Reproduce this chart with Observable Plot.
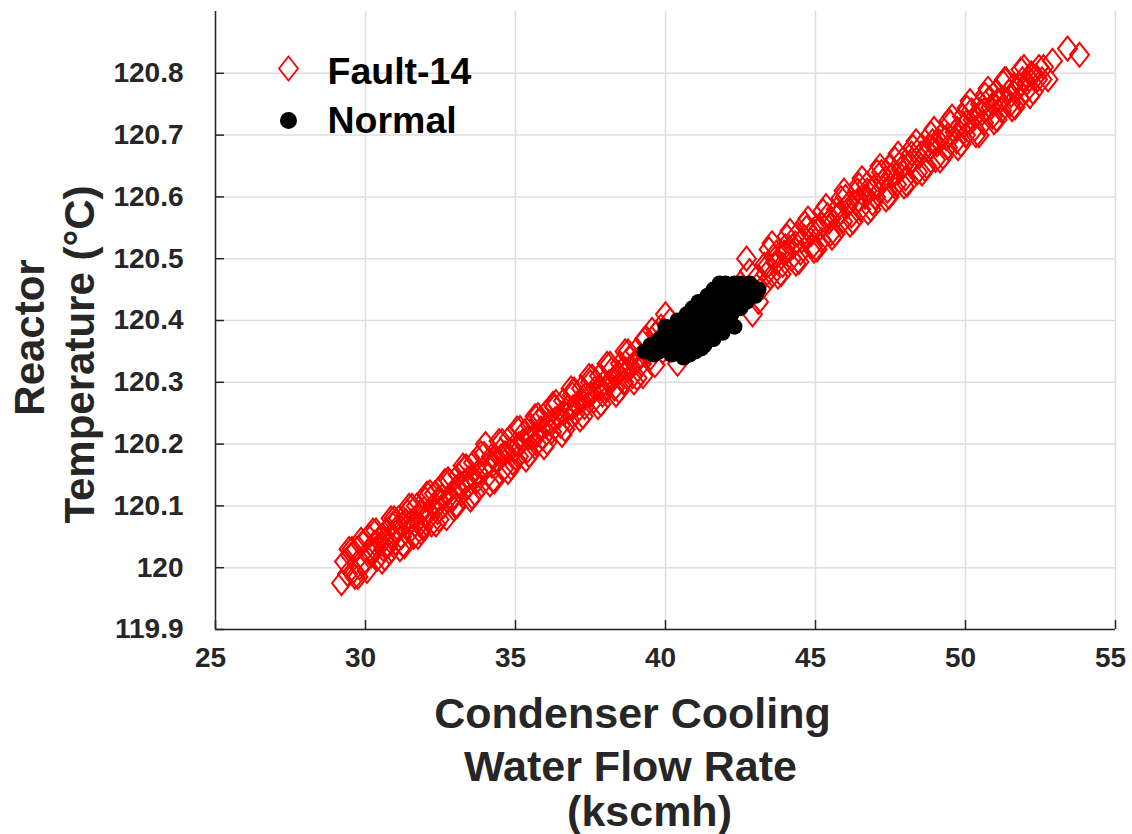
<!DOCTYPE html>
<html><head><meta charset="utf-8">
<script src="https://cdn.jsdelivr.net/npm/d3@7"></script>
<script src="https://cdn.jsdelivr.net/npm/@observablehq/plot@0.6"></script>
<style>body{margin:0;background:#fff;} svg{display:block}</style>
</head><body><div id="chart"></div>
<script>
// Fault-14 samples [flow rate (kscmh), reactor temperature (°C)]
const faultPoints = [
[29.2,119.975],[29.3,120.01],[29.4,119.99],[29.5,120.02],[29.6,119.995],[29.7,120.03],[29.8,120.0],[29.9,120.04],
[30.0,120.01],[30.1,120.05],[30.2,120.02],[30.3,120.04],[30.4,120.015],[30.5,120.05],[30.6,120.03],[30.7,120.06],
[30.8,120.025],[30.9,120.07],[31.0,120.04],[31.1,120.08],[31.2,120.05],[31.3,120.035],[31.4,120.09],[31.5,120.06],
[31.6,120.05],[31.7,120.1],[31.8,120.07],[31.9,120.065],[32.0,120.11],[32.1,120.08],[32.2,120.07],[32.3,120.12],
[32.4,120.09],[32.5,120.13],[32.6,120.1],[32.7,120.08],[32.8,120.14],[32.9,120.11],[33.0,120.1],[33.1,120.15],
[33.2,120.12],[33.3,120.16],[33.4,120.13],[33.5,120.11],[33.6,120.17],[33.7,120.14],[33.8,120.13],[34.0,120.2],
[34.1,120.15],[34.2,120.18],[34.3,120.14],[34.5,120.19],[34.6,120.16],[34.8,120.21],[34.9,120.17],[35.0,120.2],
[35.1,120.18],[35.3,120.22],[35.4,120.19],[35.5,120.23],[35.7,120.2],[35.8,120.24],[35.9,120.21],[36.0,120.25],
[36.2,120.22],[36.3,120.26],[36.5,120.23],[36.6,120.27],[36.8,120.24],[36.9,120.28],[37.0,120.25],[37.2,120.29],
[37.3,120.26],[37.5,120.3],[37.6,120.27],[37.8,120.31],[37.9,120.28],[38.0,120.29],[38.2,120.32],[38.3,120.29],
[38.5,120.33],[38.6,120.3],[38.8,120.34],[38.9,120.31],[39.0,120.35],[39.2,120.33],[39.3,120.37],[39.5,120.34],
[39.7,120.38],[39.9,120.35],[40.0,120.41],[40.4,120.33],[40.6,120.36],[40.8,120.37],[41.0,120.39],[41.3,120.4],
[41.6,120.41],[41.9,120.43],[42.2,120.44],[42.7,120.5],[42.9,120.41],[43.1,120.43],[43.3,120.49],[43.5,120.47],
[43.7,120.51],[43.9,120.49],[44.0,120.52],[44.2,120.5],[44.4,120.54],[44.5,120.51],[44.7,120.55],[44.9,120.52],
[45.0,120.55],[45.2,120.53],[45.4,120.57],[45.5,120.54],[45.7,120.58],[45.9,120.56],[46.0,120.6],[46.2,120.57],
[46.4,120.61],[46.5,120.58],[46.7,120.62],[46.9,120.59],[47.0,120.6],[47.2,120.64],[47.4,120.61],[47.5,120.65],
[47.7,120.62],[47.9,120.66],[48.0,120.63],[48.2,120.67],[48.4,120.64],[48.5,120.68],[48.7,120.65],[48.9,120.69],
[49.0,120.66],[49.2,120.7],[49.4,120.68],[49.5,120.72],[49.7,120.69],[49.9,120.73],[50.0,120.7],[50.2,120.74],
[50.3,120.71],[50.5,120.75],[50.6,120.72],[50.8,120.76],[50.9,120.73],[51.0,120.77],[51.2,120.74],[51.3,120.79],
[51.5,120.75],[51.6,120.78],[51.8,120.76],[51.9,120.79],[52.0,120.77],[52.2,120.8],[52.4,120.79],[52.6,120.81],
[52.9,120.82],[53.4,120.84],[53.8,120.83],
[30.15,120.03],[30.45,120.045],[30.75,120.035],[31.05,120.065],[31.35,120.075],[31.65,120.07],[31.95,120.095],
[32.25,120.1],[32.55,120.115],[32.85,120.11],[33.15,120.135],[33.45,120.145],[33.75,120.155],[34.05,120.165],
[34.35,120.175],[34.65,120.185],[34.95,120.19],[35.25,120.205],[35.55,120.21],[35.85,120.225],[36.15,120.235],
[36.45,120.245],[36.75,120.26],[37.05,120.265],[37.35,120.28],[37.65,120.29],[37.95,120.3],[38.25,120.305],
[38.55,120.32],[38.85,120.325],[39.15,120.34],[39.45,120.35],[39.75,120.365],[40.05,120.37],[42.5,120.46],
[42.8,120.48],[43.05,120.47],[43.35,120.475],[43.65,120.5],[43.95,120.51],[44.25,120.52],[44.55,120.53],
[44.85,120.54],[45.15,120.55],[45.45,120.56],[45.75,120.57],[46.05,120.585],[46.35,120.59],[46.65,120.6],
[46.95,120.615],[47.25,120.625],[47.55,120.635],[47.85,120.645],[48.15,120.655],[48.45,120.665],[48.75,120.675],
[49.05,120.685],[49.35,120.695],[49.65,120.705],[49.95,120.715],[50.25,120.725],[50.55,120.735],[50.85,120.745],
[51.15,120.755],[51.45,120.77],[51.75,120.775],[52.05,120.785],[52.35,120.795],
[29.45,120.03],[29.65,119.985],[29.85,120.045],[30.05,119.995],[30.25,120.06],[30.55,120.01],[30.85,120.08],
[31.15,120.03],[31.45,120.1],[31.75,120.05],[32.05,120.12],[32.35,120.07],[32.65,120.14],[32.95,120.095],
[33.25,120.165],[33.55,120.115],[33.85,120.185],[34.15,120.135],[34.45,120.205],[34.75,120.155],[35.05,120.225],
[35.35,120.175],[35.65,120.245],[35.95,120.195],[36.25,120.265],[36.55,120.215],[36.85,120.29],[37.15,120.24],
[37.45,120.31],[37.75,120.26],[38.05,120.33],[38.35,120.28],[38.65,120.35],[38.95,120.3],[39.25,120.31],
[39.55,120.385],[39.85,120.39],[40.15,120.4],[43.25,120.455],[43.55,120.525],[43.85,120.475],[44.15,120.545],
[44.45,120.495],[44.75,120.565],[45.05,120.515],[45.35,120.585],[45.65,120.54],[45.95,120.61],[46.25,120.56],
[46.55,120.63],[46.85,120.58],[47.15,120.65],[47.45,120.6],[47.75,120.67],[48.05,120.62],[48.35,120.69],
[48.65,120.645],[48.95,120.71],[49.25,120.665],[49.55,120.73],[49.85,120.685],[50.15,120.755],[50.45,120.7],
[50.75,120.775],[51.05,120.725],[51.35,120.79],[51.65,120.745],[51.95,120.81],[52.25,120.77],[52.55,120.79],
[30.32,120.03],[30.62,120.045],[30.92,120.05],[31.22,120.07],[31.52,120.075],[31.82,120.09],[32.12,120.09],
[32.42,120.11],[32.72,120.11],[33.02,120.13],[33.32,120.14],[33.62,120.145],[33.92,120.16],[34.22,120.165],
[34.52,120.18],[34.82,120.19],[35.12,120.2],[35.42,120.21],[35.72,120.215],[36.02,120.23],[36.32,120.24],
[36.62,120.25],[36.92,120.26],[37.22,120.27],[37.52,120.28],[37.82,120.29],[38.12,120.3],[38.42,120.315],
[38.72,120.32],[39.02,120.335],[39.32,120.345],[39.62,120.355],[43.42,120.49],[43.72,120.495],[44.02,120.51],
[44.32,120.525],[44.62,120.535],[44.92,120.545],[45.22,120.555],[45.52,120.565],[45.82,120.575],[46.12,120.59],
[46.42,120.595],[46.72,120.61],[47.02,120.62],[47.32,120.63],[47.62,120.64],[47.92,120.65],[48.22,120.66],
[48.52,120.67],[48.82,120.68],[49.12,120.69],[49.42,120.7],[49.72,120.71],[50.02,120.72],[50.32,120.73],
[50.62,120.74],[50.92,120.75],[51.22,120.76],[51.52,120.765],[51.82,120.78],[52.12,120.79],
[29.55,120.03],[29.75,119.985],[30.35,120.06],[30.65,120.015],[30.95,120.08],[31.25,120.037],[31.55,120.1],
[31.85,120.057],[32.15,120.122],[32.45,120.078],[32.75,120.143],[33.05,120.1],[33.35,120.164],[33.65,120.12],
[33.95,120.184],[34.25,120.141],[34.55,120.205],[34.85,120.162],[35.15,120.226],[35.45,120.182],[35.75,120.247],
[36.05,120.203],[36.35,120.268],[36.65,120.224],[36.95,120.288],[37.25,120.245],[37.55,120.309],[37.85,120.265],
[38.15,120.33],[38.45,120.286],[38.75,120.35],[39.05,120.307],[39.35,120.372],[39.65,120.328],[43.45,120.515],
[43.75,120.471],[44.05,120.536],[44.35,120.492],[44.65,120.557],[44.95,120.513],[45.25,120.577],[45.55,120.534],
[45.85,120.598],[46.15,120.555],[46.45,120.619],[46.75,120.575],[47.05,120.64],[47.35,120.596],[47.65,120.661],
[47.95,120.617],[48.25,120.681],[48.55,120.638],[48.85,120.702],[49.15,120.659],[49.45,120.723],[49.75,120.679],
[50.05,120.744],[50.35,120.7],[50.65,120.765],[50.95,120.721],[51.25,120.785],[51.55,120.742],[51.85,120.806],
[52.15,120.763],[52.45,120.81],[52.75,120.79]
];
// Normal samples
const normalPoints = [
[39.3,120.35],[39.5,120.36],[39.6,120.345],[39.8,120.37],[39.9,120.355],[40.0,120.39],[40.1,120.36],[40.2,120.345],
[40.3,120.38],[40.3,120.36],[40.4,120.4],[40.5,120.35],[40.5,120.37],[40.6,120.34],[40.6,120.38],[40.7,120.39],
[40.7,120.41],[40.8,120.36],[40.9,120.42],[40.9,120.38],[41.0,120.35],[41.0,120.4],[41.1,120.37],[41.1,120.43],
[41.2,120.39],[41.2,120.355],[41.3,120.36],[41.3,120.41],[41.4,120.44],[41.4,120.38],[41.5,120.4],[41.5,120.42],
[41.6,120.37],[41.6,120.45],[41.7,120.39],[41.7,120.43],[41.8,120.41],[41.8,120.46],[41.9,120.38],[41.9,120.44],
[42.0,120.42],[42.0,120.46],[42.1,120.4],[42.1,120.45],[42.2,120.43],[42.3,120.46],[42.3,120.39],[42.4,120.44],
[42.5,120.42],[42.5,120.46],[42.6,120.45],[42.7,120.43],[42.8,120.46],[42.9,120.44],[43.0,120.45],[43.1,120.45],
[40.0,120.37],[40.2,120.38],[40.4,120.37],[40.8,120.4],[41.0,120.42],[41.2,120.42],[41.4,120.41],[41.6,120.43],
[41.8,120.43],[42.0,120.44],[42.2,120.45],[42.4,120.455],[42.6,120.44],[42.8,120.445],[41.0,120.37],[40.8,120.345],
[41.5,120.39],[40.2,120.36],[39.6,120.36],[39.8,120.35],[42.2,120.41],[41.3,120.38],[40.9,120.36],[42.9,120.455],
[43.0,120.44],[41.2,120.37]
];
const xTicks = [25, 30, 35, 40, 45, 50, 55];
const yTicks = [119.9, 120, 120.1, 120.2, 120.3, 120.4, 120.5, 120.6, 120.7, 120.8];
const yTickLabels = ["119.9", "120", "120.1", "120.2", "120.3", "120.4", "120.5", "120.6", "120.7", "120.8"];
const seriesNames = ["Fault-14", "Normal"];
const xTitleLines = ["Condenser Cooling", "Water Flow Rate", "(kscmh)"];
const yTitleLines = ["Reactor", "Temperature (°C)"];

const fault = faultPoints.map(([x, y]) => ({x, y}));
const normal = normalPoints.map(([x, y]) => ({x, y}));

const tallDiamond = {
  draw(ctx) {
    const w = 9.5, h = 12;
    ctx.moveTo(0, -h); ctx.lineTo(w, 0); ctx.lineTo(0, h); ctx.lineTo(-w, 0); ctx.closePath();
  }
};
const ink = "#262626";

const chart = Plot.plot({
  width: 1132, height: 834,
  marginLeft: 215, marginRight: 17, marginTop: 11, marginBottom: 205,
  x: {domain: [25, 55]},
  y: {domain: [119.9, 120.9]},
  style: {fontFamily: "'Liberation Sans', Arial, sans-serif", fontWeight: "bold", color: ink, background: "white"},
  marks: [
    Plot.gridX(xTicks, {stroke: "#dedede", strokeOpacity: 1, strokeWidth: 1.5}),
    Plot.gridY(yTicks, {stroke: "#dedede", strokeOpacity: 1, strokeWidth: 1.5}),
    Plot.dot(fault, {x: "x", y: "y", symbol: tallDiamond, stroke: "red", fill: "none", strokeWidth: 2}),
    Plot.dot(normal, {x: "x", y: "y", r: 8, fill: "black", stroke: "none"}),
    Plot.ruleX([25], {stroke: ink, strokeWidth: 1.5}),
    Plot.ruleY([119.9], {stroke: ink, strokeWidth: 1.5}),
    Plot.axisX(xTicks, {tickSize: 9, dy: -9, tickFormat: () => "", label: null, stroke: ink, strokeWidth: 1.5}),
    Plot.axisY(yTicks, {tickSize: 9, dx: 9, tickFormat: () => "", label: null, stroke: ink, strokeWidth: 1.5}),
    Plot.axisX(xTicks, {tickSize: 0, tickPadding: 18, fontSize: 28, dx: -5, label: null, fill: ink}),
    Plot.axisY(yTicks, {tickSize: 0, tickPadding: 32, fontSize: 28, label: null, fill: ink,
      tickFormat: d => yTickLabels[yTicks.indexOf(d)]}),
    Plot.text([xTitleLines[0]], {frameAnchor: "bottom", text: d => d, dx: -33, dy: 98, lineAnchor: "bottom", fontSize: 43, fill: ink}),
    Plot.text([xTitleLines[1]], {frameAnchor: "bottom", text: d => d, dx: -35, dy: 151, lineAnchor: "bottom", fontSize: 43, fill: ink}),
    Plot.text([xTitleLines[2]], {frameAnchor: "bottom", text: d => d, dx: -16, dy: 196, lineAnchor: "bottom", fontSize: 43, fill: ink}),
    Plot.text([yTitleLines[0]], {frameAnchor: "left", text: d => d, rotate: -90, textAnchor: "middle", dx: -172, dy: 17, lineAnchor: "bottom", fontSize: 42, fill: ink}),
    Plot.text([yTitleLines[1]], {frameAnchor: "left", text: d => d, rotate: -90, textAnchor: "middle", dx: -122, dy: 34, lineAnchor: "bottom", fontSize: 42, fill: ink}),
    Plot.dot([seriesNames[0]], {frameAnchor: "top-left", dx: 73, dy: 57, symbol: tallDiamond, stroke: "red", fill: "none", strokeWidth: 1.8}),
    Plot.dot([seriesNames[1]], {frameAnchor: "top-left", dx: 73, dy: 109, r: 8.5, fill: "black", stroke: "none"}),
    Plot.text([seriesNames[0]], {frameAnchor: "top-left", text: d => d, dx: 112, dy: 72, textAnchor: "start", lineAnchor: "bottom", fontSize: 37.5, fill: "black"}),
    Plot.text([seriesNames[1]], {frameAnchor: "top-left", text: d => d, dx: 112, dy: 121, textAnchor: "start", lineAnchor: "bottom", fontSize: 37.5, fill: "black"})
  ]
});
document.getElementById("chart").append(chart);
</script>
</body></html>
